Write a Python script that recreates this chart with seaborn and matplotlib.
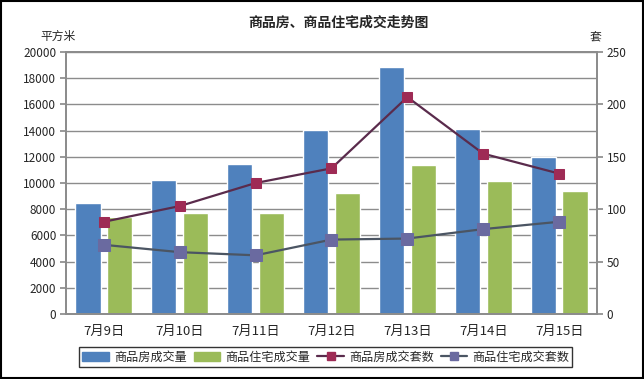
import numpy as np
import pandas as pd
import matplotlib
matplotlib.use("Agg")
import matplotlib.pyplot as plt
import seaborn as sns
from matplotlib.patches import Rectangle

days = ['7月9日', '7月10日', '7月11日', '7月12日', '7月13日', '7月14日', '7月15日']
area_all = [8470, 10230, 11450, 14050, 18850, 14120, 12000]
area_house = [7420, 7710, 7710, 9240, 11370, 10150, 9390]
units_all = [88, 103, 125, 139, 207, 153, 134]
units_house = [66, 59, 56, 71, 72, 81, 88]
names = ['商品房成交量', '商品住宅成交量', '商品房成交套数', '商品住宅成交套数']

sns.set_theme(style='white')
plt.rcParams['font.family'] = ['Noto Sans CJK SC', 'DejaVu Sans']
plt.rcParams['axes.unicode_minus'] = False

bar_df = pd.DataFrame({
    'day': days * 2,
    'area': area_all + area_house,
    'kind': [names[0]] * 7 + [names[1]] * 7,
})

fig = plt.figure(figsize=(6.44, 3.79), dpi=100)
ax = fig.add_axes([0.1025, 0.1715, 0.8245, 0.6913])

gray = '#8c8c8c'
sns.barplot(data=bar_df, x='day', y='area', hue='kind', order=days,
            palette=['#4f81bd', '#9bbb59'], width=0.84, gap=0.21,
            saturation=1, legend=False, ax=ax)
ax.set_ylim(0, 20000)
ax.set_yticks(np.arange(0, 20001, 2000))
ax.set_xlim(-0.5, 6.5)
ax.set_xlabel('')
ax.set_ylabel('')
ax.yaxis.grid(True, color=gray, linewidth=1)
ax.set_axisbelow(True)
for s in ax.spines.values():
    s.set_color(gray)
ax.tick_params(axis='y', left=True, length=4, color=gray, labelsize=8.5, pad=3)
ax.tick_params(axis='x', bottom=False, labelsize=9.5, pad=2)

ax2 = ax.twinx()
pos = np.arange(len(days))
sns.lineplot(x=pos, y=units_all, color='#5a2b4c', linewidth=1.6, marker='s',
             markersize=7, markerfacecolor='#9e2b55', markeredgecolor='#9e2b55', ax=ax2)
sns.lineplot(x=pos, y=units_house, color='#4b5563', linewidth=1.6, marker='s',
             markersize=8, markerfacecolor='#6a6aa0', markeredgecolor='#6a6aa0', ax=ax2)
ax2.set_ylim(0, 250)
ax2.set_yticks(np.arange(0, 251, 50))
ax2.set_xlim(-0.5, 6.5)
for s in ax2.spines.values():
    s.set_color(gray)
ax2.tick_params(axis='y', right=True, length=4, color=gray, labelsize=8.5, pad=3)

fig.text(0.525, 0.94, '商品房、商品住宅成交走势图', ha='center', va='center',
         fontsize=10, fontweight='bold')
fig.text(0.062, 0.905, '平方米', ha='left', va='center', fontsize=8.5)
fig.text(0.915, 0.9, '套', ha='left', va='center', fontsize=8.5)

handles = [
    Rectangle((0, 0), 1, 1, color='#4f81bd'),
    Rectangle((0, 0), 1, 1, color='#9bbb59'),
    plt.Line2D([], [], color='#5a2b4c', lw=1.6, marker='s', markersize=6,
               markerfacecolor='#9e2b55', markeredgecolor='#9e2b55'),
    plt.Line2D([], [], color='#4b5563', lw=1.6, marker='s', markersize=6,
               markerfacecolor='#6a6aa0', markeredgecolor='#6a6aa0'),
]
leg = fig.legend(handles, names, loc='center', bbox_to_anchor=(0.506, 0.058),
                 ncol=4, frameon=True, fancybox=False, fontsize=8.7,
                 handlelength=2.2, handletextpad=0.4, columnspacing=0.6,
                 borderpad=0.25, borderaxespad=0)
leg.get_frame().set_edgecolor('black')
leg.get_frame().set_linewidth(1)

fig.patches.append(Rectangle((0.002, 0.003), 0.996, 0.994, transform=fig.transFigure,
                             fill=False, edgecolor='black', linewidth=1.5))

fig.savefig('out.png', dpi=100)
